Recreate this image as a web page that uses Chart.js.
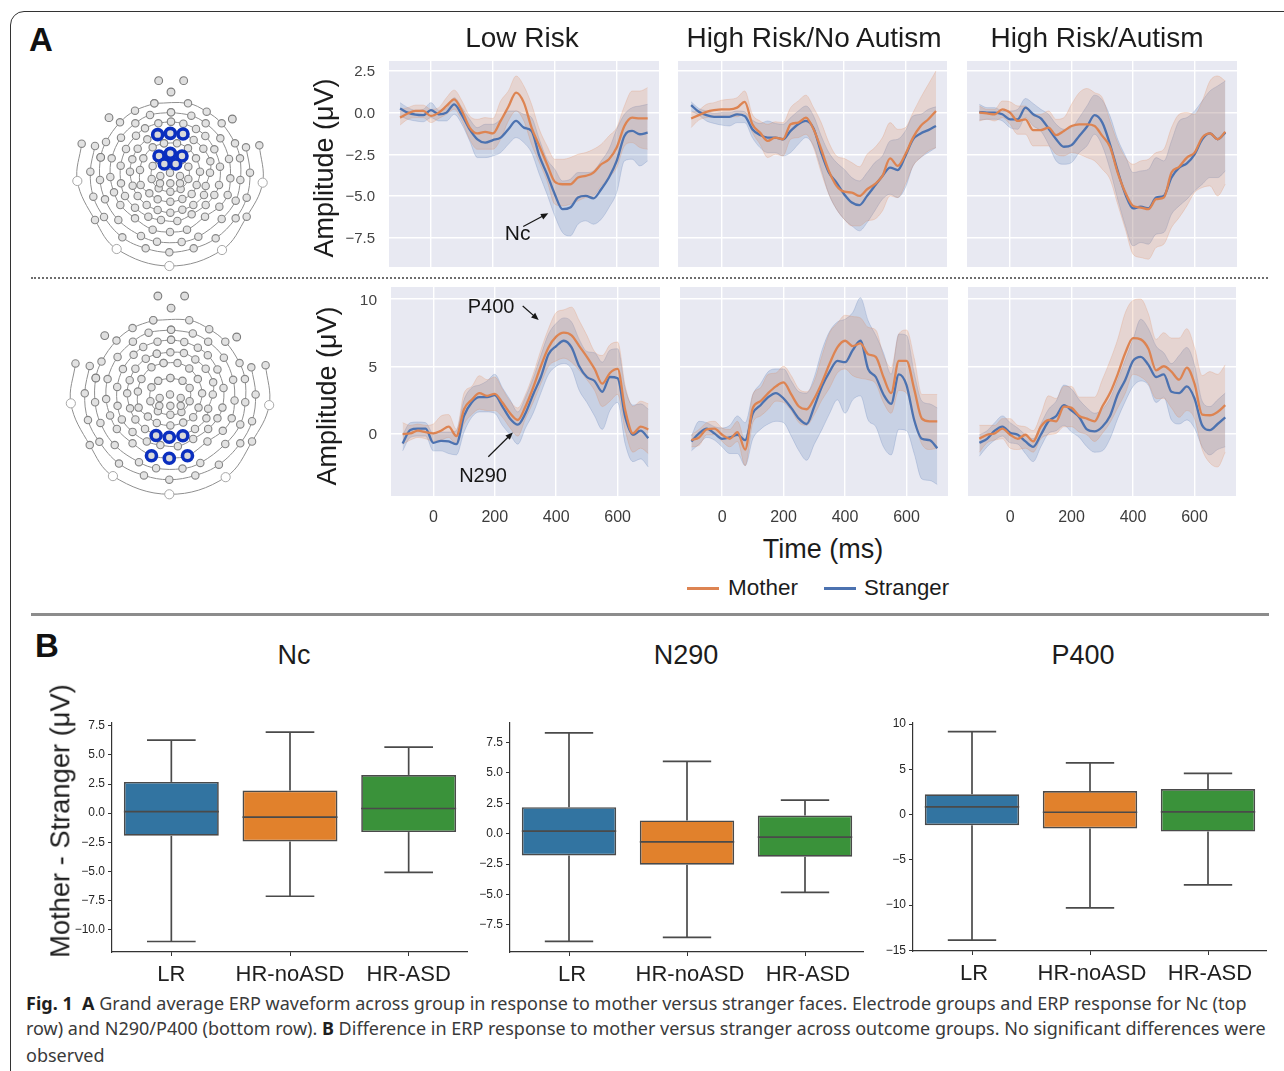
<!DOCTYPE html>
<html><head><meta charset="utf-8">
<style>
html,body{margin:0;padding:0;background:#fff;width:1284px;height:1071px;overflow:hidden;font-family:"Liberation Sans",Arial,sans-serif}
canvas{position:absolute;display:block}
.t{position:absolute;white-space:nowrap;transform:translate(-50%,-50%);color:#1c1c1c;line-height:1}
.r{transform:translate(-50%,-50%) rotate(-90deg)}
.cap{position:absolute;left:26px;white-space:nowrap;font-family:"Noto Sans",sans-serif;font-size:18px;color:#3a3a3a;line-height:1;transform:translateY(-50%)}
.cap b{color:#1f1f1f}
#card{position:absolute;left:10px;top:11px;width:1400px;height:1200px;border:1px solid #333;border-radius:14px}
#dots{position:absolute;left:31px;top:277px;width:1237px;border-top:2px dotted #6d6d6d}
#rule{position:absolute;left:31px;top:613px;width:1238px;height:3px;background:#8c8c8c}
.leg{position:absolute;height:2.5px;top:587px;width:32px}
</style>
<script src="https://cdn.jsdelivr.net/npm/chart.js@4/dist/chart.umd.min.js"></script>
</head><body>
<div id="card"></div><div id="dots"></div><div id="rule"></div>
<script>
// ---------- ERP waveform data (time in ms, amplitude in µV) ----------
const times=[-100,-75,-50,-25,0,25,50,75,100,125,150,175,200,225,250,275,300,325,350,375,400,425,450,475,500,525,550,575,600,625,650,675,700];

const ncLowStrangerMean=[.25,0,-.12,-.15,.15,-.1,0,.5,-.15,-1,-1.6,-1.8,-1.65,-1.5,-1,-.5,-.9,-1.1,-2.6,-3.7,-4.9,-5.8,-5.7,-5.1,-5,-5.15,-4.6,-3.9,-2.9,-1.4,-1.1,-1.3,-1.2];
const ncLowStrangerHigh=[.6,.3,.15,.2,.6,.15,.25,.9,.3,-.4,-.9,-.7,-.7,-.4,.1,.1,-.1,-.3,-1.6,-2.8,-3.4,-4.1,-4,-3.6,-3.6,-3.5,-2.9,-2.2,-1,-.1,.3,.4,.5];
const ncLowStrangerLow=[-.2,-.4,-.5,-.55,-.3,-.5,-.5,-.1,-.7,-1.7,-2.7,-2.7,-2.6,-2.4,-1.9,-1.5,-1.8,-2.4,-3.7,-4.9,-6.2,-7.2,-7.4,-6.7,-6.5,-6.7,-6.4,-5.7,-4.8,-2.9,-2.8,-3.2,-2.9];
const ncLowMotherMean=[-.3,-.05,.1,.1,-.2,0,.4,.8,.1,-.9,-1.25,-1.15,-1.25,-.5,.35,1.2,.6,-.9,-2,-3.1,-4.15,-4.3,-4.3,-3.9,-3.8,-3.6,-3.1,-2.8,-2.1,-.8,-.3,-.35,-.35];
const ncLowMotherHigh=[.2,.3,.45,.45,.2,.3,.9,1.35,.7,-.2,-.4,-.3,-.35,.7,1.3,2.2,1.6,.5,-1,-2,-2.8,-2.8,-2.7,-2.5,-2.4,-2.2,-1.9,-1.4,-.9,.4,1.3,1.3,1.5];
const ncLowMotherLow=[-.75,-.4,-.3,-.3,-.6,-.35,-.1,.2,-.5,-1.6,-2.2,-2.2,-2.2,-1.6,-.5,.1,-.5,-1.9,-3,-4.1,-5.5,-5.6,-5.5,-5.3,-5.1,-5,-4.4,-3.9,-3.3,-2,-1.8,-2.1,-2.2];

const ncNoAutStrangerMean=[.45,.05,-.15,-.25,-.25,-.25,-.1,-.2,-1,-1.35,-1.5,-1.5,-1.6,-1.1,-.7,-.5,-.95,-2.4,-3.6,-4.2,-4.9,-5.4,-5.55,-5,-4.4,-3.8,-3.3,-3.45,-2.6,-1.6,-1.25,-1.05,-.8];
const ncNoAutStrangerHigh=[.65,.25,.1,-.05,0,0,.1,.05,-.45,-.65,-.5,-.65,-.7,-.3,.1,.4,-.2,-1.4,-2.4,-3,-3.4,-3.9,-4.1,-3.6,-3,-2.6,-1.7,-1.6,-1.1,-.2,-.1,.2,.35];
const ncNoAutStrangerLow=[.1,-.15,-.5,-.65,-.75,-.8,-.6,-.6,-1.5,-2.1,-2.4,-2.4,-2.6,-2.4,-1.9,-1.5,-2,-3.4,-4.9,-5.8,-6.4,-6.8,-7.1,-6.6,-5.9,-5.2,-4.9,-5.1,-4.5,-3.2,-2.7,-2.4,-2.1];
const ncNoAutMotherMean=[-.35,-.15,.05,.15,.2,.2,.3,.65,-.7,-1.2,-1.7,-1.5,-1.6,-.7,-.6,-.3,-1,-2.2,-3.5,-4.4,-4.75,-4.8,-5,-4.6,-4.3,-3.8,-2.75,-3.2,-2.5,-1.5,-.8,-.4,.1];
const ncNoAutMotherHigh=[0,.15,.5,.6,.75,.8,.9,1.3,-.1,-.5,-.7,-.55,-.6,.3,.7,1.05,.3,-.6,-1.8,-2.6,-2.75,-3,-3.25,-2.5,-2.1,-1.5,-.6,-1,-.9,0,.9,1.7,2.5];
const ncNoAutMotherLow=[-.9,-.45,-.3,-.25,-.2,-.25,-.25,-.05,-1.2,-1.9,-2.7,-2.5,-2.6,-1.6,-1.5,-1.3,-2.1,-3.6,-4.9,-5.8,-6.4,-6.8,-6.8,-6.5,-6.4,-5.9,-5,-5.1,-4.3,-3.2,-2.7,-2.3,-2.1];

const ncAutStrangerMean=[.05,0,0,-.1,-.4,-.4,.3,-.1,-.35,-.95,-1.6,-2.05,-1.95,-1.4,-.85,-.15,-.6,-1.9,-3.5,-4.9,-5.75,-5.65,-5.75,-5.1,-5,-3.9,-3.3,-3.05,-2.5,-1.6,-1.25,-1.6,-1.2];
const ncAutStrangerHigh=[.5,.3,.3,.1,.1,.2,.85,.55,.2,-.1,-.7,-1,-.9,-.3,.4,1.05,.75,-.2,-1.6,-2.6,-3.6,-3.5,-3.4,-2.7,-2.9,-1.7,-.5,-.3,.1,.7,1.3,1.6,1.9];
const ncAutStrangerLow=[-.45,-.4,-.4,-.5,-.9,-1,-.3,-.8,-1.1,-1.9,-2.9,-3.1,-3,-2.4,-2,-1.3,-2,-3.4,-5.2,-6.8,-8,-7.8,-7.9,-7.3,-7.2,-6.1,-5.6,-5.2,-4.7,-4.3,-3.9,-3.9,-3.5];
const ncAutMotherMean=[0,-.05,-.1,.2,0,-.5,-.4,-1.05,-1.05,-.9,-1.35,-1.1,-.8,-.7,-.7,-.8,-1.4,-2.05,-3.6,-4.8,-5.6,-5.7,-5.8,-5.2,-5.1,-3.6,-3.25,-2.7,-2.4,-1.5,-1.25,-1.6,-1.15];
const ncAutMotherHigh=[.4,.2,.2,.7,.65,.4,.4,-.1,-.1,.1,-.4,-.3,.5,1.2,1.45,1.2,.9,-.5,-1.8,-2.7,-3.1,-2.9,-2.8,-2.4,-2.2,-.9,-.1,0,-.1,.7,1.9,2.2,1.9];
const ncAutMotherLow=[-.5,-.4,-.5,-.3,-.7,-1.3,-1.3,-2,-2,-2,-2.5,-2.6,-2.4,-2.5,-2.7,-2.9,-3.4,-4,-5.5,-7,-8.5,-8.7,-8.8,-8.1,-7.9,-6.9,-6.3,-5.6,-4.8,-4.5,-4.4,-5,-4.3];

const pLowStrangerMean=[-.75,.25,.35,.35,-.7,-.55,-.6,-.8,1.3,2.3,2.7,2.7,2.85,2,1.1,.65,1.5,2.9,4.2,5.9,6.5,6.9,6.4,5,4.2,3.9,3.1,4.2,4.1,1.2,-.1,.2,-.35];
const pLowStrangerHigh=[-.1,.8,.85,.8,0,.1,.1,.2,2.5,3.4,3.6,3.9,4.4,3.4,2.5,1.6,2.7,4.1,5.8,7.4,8.2,8.6,8.3,7,6.1,6,5.3,6.2,6.3,3.3,2.1,2.2,1.8];
const pLowStrangerLow=[-1.3,-.3,-.2,-.2,-1.3,-1.3,-1.5,-1.6,.1,1.2,1.6,1.6,1.5,.6,-.1,-.8,.4,1.5,3,4.4,5,5.2,4.8,3.2,2.3,1.3,.3,1.7,2.3,-.8,-2.1,-1.9,-2.5];
const pLowMotherMean=[-.05,0,.2,.1,0,.2,.5,-.2,1.8,2.5,3,2.8,2.95,2.3,1.5,1,2,3.4,5,6.4,7.2,7.5,7.3,6.5,5.7,4.8,3.7,4.5,4.8,1.7,0,.5,.3];
const pLowMotherHigh=[.8,.6,.7,.6,.7,1.3,1.4,.3,3,3.5,4.3,4,4.2,3.3,2.4,1.9,2.9,4.4,6.2,7.8,9,9.2,9.4,8.4,7.3,6.1,5.8,6.6,6.8,3.5,2,2.4,2.2];
const pLowMotherLow=[-.8,-.5,-.3,-.4,-.6,-.5,-.3,-.8,.7,1.4,1.8,1.7,1.7,1.2,.4,-.2,1.1,2.3,3.7,5,5.4,5.6,5.3,4.7,4,3.2,2,2.4,2.9,.2,-1.4,-1.1,-1.5];

const pNoAutStrangerMean=[-.6,0,.35,0,-.4,-.3,-.1,-.5,1.5,2.1,2.7,3,2.6,1.9,1.1,.7,2,3.5,4.6,5.4,5.3,6.2,6.9,4.8,4.2,2.9,2.2,4.4,3.6,1,-.4,-.5,-1.1];
const pNoAutStrangerHigh=[-.2,.9,.8,.5,.4,.6,1.3,.8,2.9,3.7,4.6,4.8,4.8,3.9,3.1,3,4.2,6.2,7.6,8.3,8.5,9,10.1,8.4,7.3,6,4.4,7.4,7.3,4.5,2.4,2.2,1.9];
const pNoAutStrangerLow=[-1.3,-.8,-.3,-.5,-1,-1.5,-1.5,-2.4,-.4,.3,.7,.9,.8,-.2,-1.3,-2,-.8,.3,1.5,2.5,1.5,2.5,2.8,1,.5,-1,-1.6,.3,.2,-1.5,-3.4,-3.5,-3.8];
const pNoAutMotherMean=[-.5,-.3,.3,.35,-.1,-.4,.1,-1.2,1.9,2.4,3,3.5,3.8,2.9,2,1.8,2.6,3.8,5.2,6.4,6.9,6.5,6.7,5.9,5.7,4.2,3,5.4,5.4,3.3,1.1,.9,.9];
const pNoAutMotherHigh=[-.1,.3,.8,.9,.4,.3,.9,-.5,2.9,3.4,4.4,4.5,5,4.3,3.3,3.1,3.9,5.8,7.5,8.2,8.8,8.7,8.6,7.9,7.7,5.8,4.9,7.4,7.7,5.6,2.9,2.9,2.9];
const pNoAutMotherLow=[-1,-.9,-.1,-.1,-.6,-1,-.6,-2.4,.8,1.3,1.8,2.4,2.3,1.7,.8,.6,1.4,2.5,3.4,4.5,4.8,4.3,4.1,4,3.7,2.3,1.5,3.2,3,.9,-.8,-1.2,-1.1];

const pAutStrangerMean=[-.7,-.4,.2,.5,.05,-.1,-.6,-1,-.1,.9,1.3,2.1,1.7,1.2,.3,.15,.5,1.3,2.9,4,5.4,5.7,5.1,4.2,4.4,3.1,3,3.5,2.6,.6,.25,.7,1.2];
const pAutStrangerHigh=[-.1,.2,.8,1.3,.8,.4,-.1,-.4,.7,1.8,2.4,3.6,3.3,2.5,1.9,1.5,1.8,2.6,4,5.5,7,8.5,7.8,6.5,6,5.2,5.8,6.4,5.1,2.4,2,2.5,3];
const pAutStrangerLow=[-1.7,-1,-.5,-.2,-.7,-.8,-1.5,-2.1,-1,0,.2,.6,.1,-.3,-1,-1.4,-1.3,-.4,1.1,2.4,3.5,3.9,3.6,2.3,2.7,1,.7,1,.4,-1,-1.6,-1.2,-1];
const pAutMotherMean=[-.4,-.1,0,.35,-.1,-.4,-.1,-.6,.5,1,.9,2,1.9,1.3,1.1,.9,2,3,4.4,6,7.1,7,6.3,4.7,5,4.6,4,4.9,3.7,1.4,1.35,1.6,2.1];
const pAutMotherHigh=[.6,.6,.6,1.1,1.1,.6,.5,.2,1.4,2.8,2.6,3.5,3.5,2.7,2.7,2.7,4,5.4,7,9,9.9,10,8.9,7,7.5,7.1,7.1,7.8,6.4,4.3,4.6,4.4,5.1];
const pAutMotherLow=[-1.4,-.7,-.5,-.4,-1.1,-1.2,-1.1,-1.4,-.4,-.1,0,.5,.5,.1,-.1,-.6,0,.8,1.9,3,4.4,4.2,3.7,2.6,2.6,1.9,1.2,1.7,1.1,-1.2,-2.2,-2.5,-1.4];

const xTicks=[0,200,400,600];
const ncTicks=[2.5,0,-2.5,-5,-7.5];
const pTicks=[10,5,0];

// ---------- Box plot data ----------
const groups=["LR","HR-noASD","HR-ASD"];
const ncWhiskerLow=[-11,-7.12,-5.07], ncQ1=[-1.94,-2.42,-1.62], ncMedian=[.14,-.34,.4], ncQ3=[2.68,1.94,3.28], ncWhiskerHigh=[6.27,6.95,5.67];
const nWhiskerLow=[-8.85,-8.52,-4.82], nQ1=[-1.78,-2.55,-1.89], nMedian=[.22,-.66,-.27], nQ3=[2.19,1.1,1.5], nWhiskerHigh=[8.3,5.95,2.77];
const pWhiskerLow=[-13.86,-10.3,-7.76], pQ1=[-1.18,-1.54,-1.88], pMedian=[.85,.26,.29], pQ3=[2.24,2.6,2.83], pWhiskerHigh=[9.15,5.7,4.56];
const ncBoxTicks=[7.5,5,2.5,0,-2.5,-5,-7.5,-10];
const nBoxTicks=[7.5,5,2.5,0,-2.5,-5,-7.5];
const pBoxTicks=[10,5,0,-5,-10,-15];
const boxColors=["#3274A1","#E1812C","#3A923A"];

// ---------- Electrode montage ----------
const ringOuter=[[65,221],[52,333],[105,450],[170,537],[328,588],[486,540],[560,440],[608,338],[598,226]];
const ringFourth=[[105,228],[91,305],[100,380],[132,441],[187,502],[257,535],[328,547],[401,535],[467,505],[527,445],[560,383],[570,308],[558,232]];
const ringThird=[[283,100],[225,122],[180,157],[138,216],[122,262],[120,330],[135,388],[175,450],[243,498],[291,515],[365,516],[415,500],[485,447],[527,392],[541,330],[540,265],[525,220],[485,160],[440,125],[384,100],[283,100]];
const ringSecond=[[333,127],[270,135],[226,160],[183,203],[155,265],[151,321],[162,367],[181,405],[225,445],[278,479],[330,486],[381,479],[435,440],[478,410],[503,375],[511,325],[507,267],[481,205],[437,160],[394,137],[333,127]];
const ringC=[[333,155],[295,160],[255,175],[228,197],[198,237],[182,287],[183,340],[195,378],[225,413],[265,440],[303,450],[352,453],[395,433],[437,405],[463,375],[477,345],[480,290],[463,238],[436,198],[408,177],[370,161],[333,155]];
const ringD=[[293,194],[262,208],[233,236],[217,268],[210,305],[218,347],[233,378],[260,405],[293,420],[331,428],[367,419],[400,405],[432,375],[437,348],[450,308],[451,274],[430,236],[401,210],[369,192],[331,190],[293,194]];
const ringE=[[312,220],[278,232],[250,265],[240,300],[242,345],[268,370],[293,388],[331,395],[367,387],[395,372],[410,345],[420,305],[408,265],[384,235],[351,220],[312,220]];
const ringF=[[331,262],[297,270],[278,288],[275,327],[296,355],[331,365],[362,357],[385,327],[385,290],[365,270],[331,262]];
const innerDots=[[301,318],[330,308],[360,318],[300,340],[331,340],[360,340]];
const strayDots=[[296,32],[371,32],[333,66],[147,143],[517,147],[122,262]];
const whiteDots=[[52,333],[608,338],[170,537],[486,540],[328,588]];
const ncSites=[[293,194],[331,190],[369,192],[297,258],[331,250],[366,258],[313,282],[347,282]];
const pSites=[[291,423],[328,428],[366,424],[278,480],[328,487],[379,480]];

// ---------- Helpers ----------
const FONT='"Liberation Sans",Arial,sans-serif';
const BLUE='#4C72B0', ORANGE='#DD8452';
const minus=s=>String(s).replace('-','\u2212');
function label(txt,x,y,size,extra){
  const d=document.createElement('div');d.className='t'+(extra&&extra.rot?' r':'');d.textContent=txt;
  d.style.left=x+'px';d.style.top=y+'px';d.style.fontSize=size+'px';
  if(extra&&extra.bold)d.style.fontWeight='bold';
  if(extra&&extra.color)d.style.color=extra.color;
  document.body.appendChild(d);
}
function makeCanvas(r,m,blur){
  const c=document.createElement('canvas');
  c.width=r.w+m.l+m.r;c.height=r.h+m.t+m.b;
  c.style.left=(r.x-m.l)+'px';c.style.top=(r.y-m.t)+'px';
  c.style.width=c.width+'px';c.style.height=c.height+'px';
  if(blur)c.style.filter='blur('+blur+'px)';
  document.body.appendChild(c);return c.getContext('2d');
}
const plotBg={id:'plotBg',beforeDraw(ch){const a=ch.chartArea,g=ch.ctx;g.save();g.fillStyle='#E8E9F2';g.fillRect(a.left,a.top,a.right-a.left,a.bottom-a.top);g.restore();}};
function notes(list){return {id:'notes',afterDatasetsDraw(ch){
  const g=ch.ctx,X=ch.scales.x,Y=ch.scales.y;g.save();
  for(const n of list){
    g.fillStyle='#161616';g.font=n.size+'px '+FONT;g.textAlign='center';g.textBaseline='middle';
    g.fillText(n.text,X.getPixelForValue(n.tx),Y.getPixelForValue(n.ty));
    const x0=X.getPixelForValue(n.ax0),y0=Y.getPixelForValue(n.ay0),x1=X.getPixelForValue(n.ax1),y1=Y.getPixelForValue(n.ay1);
    const a=Math.atan2(y1-y0,x1-x0);
    g.strokeStyle='#161616';g.lineWidth=1.2;g.beginPath();g.moveTo(x0,y0);g.lineTo(x1-4*Math.cos(a),y1-4*Math.sin(a));g.stroke();
    g.beginPath();g.moveTo(x1,y1);g.lineTo(x1-8*Math.cos(a-.4),y1-8*Math.sin(a-.4));g.lineTo(x1-8*Math.cos(a+.4),y1-8*Math.sin(a+.4));g.closePath();g.fill();
  }
  g.restore();
}};}
function lineSet(name,color,data){return {label:name,data,borderColor:color,borderWidth:2.3,pointRadius:0,fill:false,cubicInterpolationMode:'monotone'};}
function band(name,color,data,fill){return {label:name,data,borderColor:color.replace('1)','.22)'),borderWidth:1,pointRadius:0,fill,backgroundColor:color.replace('1)','.2)'),cubicInterpolationMode:'monotone'};}
const B='rgba(76,114,176,1)',O='rgba(221,132,82,1)';

function erpPanel(r,m,xr,yr,yTicks,showY,showX,s,annots,fs){
  const ctx=makeCanvas(r,m,.35);
  return new Chart(ctx,{type:'line',
    data:{labels:times,datasets:[
      lineSet('Mother',ORANGE,s[3]),lineSet('Stranger',BLUE,s[0]),
      band('Mother upper',O,s[4],'+1'),band('Mother lower',O,s[5],false),
      band('Stranger upper',B,s[1],'+1'),band('Stranger lower',B,s[2],false)]},
    plugins:[plotBg].concat(annots?[notes(annots)]:[]),
    options:{responsive:false,animation:false,events:[],
      layout:{autoPadding:false,padding:{top:m.t,right:m.r,left:0,bottom:0}},
      plugins:{legend:{display:false},tooltip:{enabled:false},title:{display:false}},
      scales:{
        x:{type:'linear',min:xr[0],max:xr[1],border:{display:false},
          grid:{color:'#fff',lineWidth:1.4,drawTicks:false},
          afterBuildTicks:a=>{a.ticks=xTicks.map(v=>({value:v}));},
          afterFit:a=>{a.height=m.b;},
          ticks:{display:showX,color:'#3c3c3c',font:{family:FONT,size:16},padding:12,maxRotation:0,callback:v=>minus(v)}},
        y:{type:'linear',min:yr[0],max:yr[1],border:{display:false},
          grid:{color:'#fff',lineWidth:1.4,drawTicks:false},
          afterBuildTicks:a=>{a.ticks=yTicks.map(v=>({value:v}));},
          afterFit:a=>{a.width=m.l;},
          ticks:{display:showY,color:'#444',font:{family:FONT,size:fs||15},padding:14,labelOffset:1.2,callback:v=>minus(yTicks===ncTicks?v.toFixed(1):v)}}
      }}});
}

const row1=[ncLowStrangerMean,ncLowStrangerHigh,ncLowStrangerLow,ncLowMotherMean,ncLowMotherHigh,ncLowMotherLow];
const row2=[ncNoAutStrangerMean,ncNoAutStrangerHigh,ncNoAutStrangerLow,ncNoAutMotherMean,ncNoAutMotherHigh,ncNoAutMotherLow];
const row3=[ncAutStrangerMean,ncAutStrangerHigh,ncAutStrangerLow,ncAutMotherMean,ncAutMotherHigh,ncAutMotherLow];
const row4=[pLowStrangerMean,pLowStrangerHigh,pLowStrangerLow,pLowMotherMean,pLowMotherHigh,pLowMotherLow];
const row5=[pNoAutStrangerMean,pNoAutStrangerHigh,pNoAutStrangerLow,pNoAutMotherMean,pNoAutMotherHigh,pNoAutMotherLow];
const row6=[pAutStrangerMean,pAutStrangerHigh,pAutStrangerLow,pAutMotherMean,pAutMotherHigh,pAutMotherLow];

const ncAnnots=[{text:'Nc',size:21,tx:280,ty:-7.3,ax0:298,ay0:-6.84,ax1:379,ay1:-6.04}];
const pAnnots=[{text:'P400',size:20,tx:188,ty:9.38,ax0:291,ay0:9.48,ax1:343,ay1:8.44},
               {text:'N290',size:20,tx:162,ty:-3.18,ax0:179,ay0:-1.74,ax1:259,ay1:.07}];
const topY=[-9.27,3.1], botY=[-4.66,10.9];
erpPanel({x:389,y:61,w:270,h:206},{l:60,r:0,t:30,b:30},[-135.7,736.7],topY,ncTicks,true,false,row1,ncAnnots);
erpPanel({x:678,y:61,w:269,h:206},{l:0,r:0,t:0,b:0},[-143,736],topY,ncTicks,false,false,row2);
erpPanel({x:967,y:61,w:270,h:206},{l:0,r:0,t:0,b:0},[-140,738],topY,ncTicks,false,false,row3);
erpPanel({x:391,y:287,w:269,h:209},{l:60,r:0,t:30,b:34},[-137.8,738],botY,pTicks,true,true,row4,pAnnots,15.5);
erpPanel({x:680,y:287,w:268,h:209},{l:0,r:0,t:0,b:34},[-137,735],botY,pTicks,false,true,row5);
erpPanel({x:968,y:287,w:268,h:209},{l:0,r:0,t:0,b:34},[-137,735],botY,pTicks,false,true,row6);

// ---------- Box plots ----------
function boxPlot(r,yr,yTicks,dec,q1,med,q3,lo,hi,shift){
  const m={l:50,r:0,t:10,b:38};
  const ctx=makeCanvas(r,m);
  const whiskers={id:'whiskers',afterDatasetsDraw(ch){
    const g=ch.ctx,X=ch.scales.x,Y=ch.scales.y,step=X.getPixelForTick(1)-X.getPixelForTick(0);
    g.save();g.strokeStyle='#4a4a4a';g.lineWidth=1.7;
    groups.forEach((_,i)=>{
      const c=X.getPixelForTick(i),seg=(x0,y0,x1,y1)=>{g.beginPath();g.moveTo(x0,y0);g.lineTo(x1,y1);g.stroke();};
      seg(c,Y.getPixelForValue(q3[i]),c,Y.getPixelForValue(hi[i]));
      seg(c,Y.getPixelForValue(q1[i]),c,Y.getPixelForValue(lo[i]));
      seg(c-step*.205,Y.getPixelForValue(hi[i]),c+step*.205,Y.getPixelForValue(hi[i]));
      seg(c-step*.205,Y.getPixelForValue(lo[i]),c+step*.205,Y.getPixelForValue(lo[i]));
      seg(c-step*.4,Y.getPixelForValue(med[i]),c+step*.4,Y.getPixelForValue(med[i]));
    });
    g.restore();
  }};
  return new Chart(ctx,{type:'bar',
    data:{labels:groups,datasets:[{label:'IQR',data:q1.map((v,i)=>[v,q3[i]]),backgroundColor:boxColors,borderColor:'#4a4a4a',borderWidth:1.7,borderSkipped:false,barPercentage:.8,categoryPercentage:1}]},
    plugins:[whiskers],
    options:{responsive:false,animation:false,events:[],
      layout:{autoPadding:false,padding:{top:m.t,right:m.r,left:0,bottom:0}},
      plugins:{legend:{display:false},tooltip:{enabled:false}},
      scales:{
        x:{type:'category',border:{display:true,color:'#333',width:1.2},
          grid:{offset:false,drawOnChartArea:false,drawTicks:true,tickLength:4,color:'#333'},
          afterFit:a=>{a.height=m.b;},
          ticks:{color:'#1f1f1f',font:{family:FONT,size:22},padding:6,labelOffset:shift,maxRotation:0,autoSkip:false}},
        y:{type:'linear',min:yr[0],max:yr[1],border:{display:true,color:'#333',width:1.2},
          grid:{drawOnChartArea:false,drawTicks:true,tickLength:4,color:'#333'},
          afterBuildTicks:a=>{a.ticks=yTicks.map(v=>({value:v}));},
          afterFit:a=>{a.width=m.l;},
          ticks:{color:'#262626',font:{family:FONT,size:12},padding:3,callback:v=>minus(v.toFixed(dec))}}
      }}});
}
boxPlot({x:112,y:722,w:356,h:230},[-11.9,7.8],ncBoxTicks,1,ncQ1,ncMedian,ncQ3,ncWhiskerLow,ncWhiskerHigh,0);
boxPlot({x:510,y:722,w:354,h:230},[-9.73,9.18],nBoxTicks,1,nQ1,nMedian,nQ3,nWhiskerLow,nWhiskerHigh,3);
boxPlot({x:913,y:722,w:354,h:229},[-15.06,10.2],pBoxTicks,0,pQ1,pMedian,pQ3,pWhiskerLow,pWhiskerHigh,2);

// ---------- Electrode maps ----------
const xy=a=>a.map(p=>({x:p[0],y:p[1]}));
function headMap(r,xr,yr,sites){
  const ctx=makeCanvas(r,{l:0,r:0,t:0,b:0},.45);
  const ring=a=>({type:'scatter',data:xy(a),showLine:true,tension:.38,borderColor:'#8f8f8f',borderWidth:1,pointRadius:3.7,pointBackgroundColor:'#e2e2e2',pointBorderColor:'#868686',pointBorderWidth:1.1});
  const dots=(a,rad,fill,edge,w)=>({type:'scatter',data:xy(a),showLine:false,pointRadius:rad,pointBackgroundColor:fill,pointBorderColor:edge,pointBorderWidth:w});
  return new Chart(ctx,{type:'scatter',
    data:{datasets:[dots(sites,5,'#d9d9d9','#0b2fbf',3.6),dots(whiteDots,4.6,'#ffffff','#a9a9a9',1),dots(strayDots,3.9,'#dedede','#7c7c7c',1.1),dots(innerDots,3.7,'#e2e2e2','#868686',1.1),
      ring(ringF),ring(ringE),ring(ringD),ring(ringC),ring(ringSecond),ring(ringThird),ring(ringFourth),ring(ringOuter)]},
    options:{responsive:false,animation:false,events:[],layout:{autoPadding:false,padding:0},
      plugins:{legend:{display:false},tooltip:{enabled:false}},
      scales:{x:{type:'linear',display:false,min:xr[0],max:xr[1]},y:{type:'linear',display:false,min:yr[0],max:yr[1],reverse:true}}}});
}
headMap({x:60,y:70,w:220,h:210},[0,660],[0,630],ncSites);
headMap({x:60,y:285,w:220,h:215},[21.6,638.4],[1.2,604],pSites);

// ---------- Text ----------
label('A',41,39,33,{bold:true,color:'#111'});
label('B',47,645,33,{bold:true,color:'#111'});
label('Low Risk',522,38,28);
label('High Risk/No Autism',814,38,28);
label('High Risk/Autism',1097,38,28);
label('Amplitude (\u03bcV)',324,168,27,{rot:true});
label('Amplitude (\u03bcV)',327,396,27,{rot:true});
label('Time (ms)',823,549,27);
label('Nc',294,655,27);
label('N290',686,655,27);
label('P400',1083,655,27);
label('Mother - Stranger (\u03bcV)',60,821,27.3,{rot:true});
for(const [x,c] of [[687,ORANGE],[824,BLUE]]){const d=document.createElement('div');d.className='leg';d.style.left=x+'px';d.style.background=c;document.body.appendChild(d);}
label('Mother',763,588,22.5);
label('Stranger',906.5,588,22.2);
const caption=[
 '<b>Fig. 1</b>&nbsp; <b>A</b> Grand average ERP waveform across group in response to mother versus stranger faces. Electrode groups and ERP response for Nc (top',
 'row) and N290/P400 (bottom row). <b>B</b> Difference in ERP response to mother versus stranger across outcome groups. No significant differences were',
 'observed'];
[1003,1028,1055].forEach((y,i)=>{const d=document.createElement('div');d.className='cap';d.style.top=y+'px';d.innerHTML=caption[i];document.body.appendChild(d);});
</script>
</body></html>
